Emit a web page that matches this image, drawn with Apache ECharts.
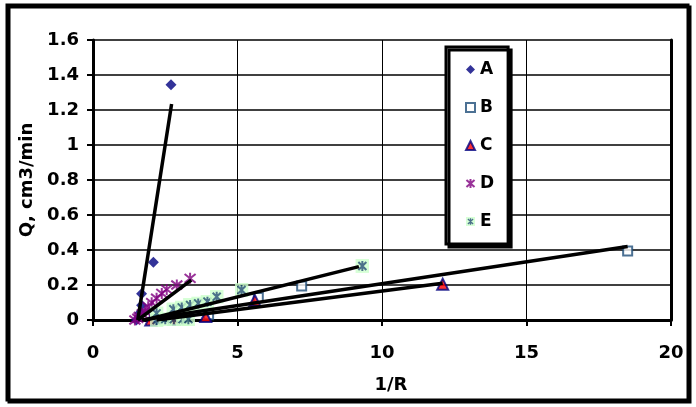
<!DOCTYPE html>
<html>
<head>
<meta charset="utf-8">
<script src="https://cdn.jsdelivr.net/npm/echarts@6/dist/echarts.min.js"></script>
<style>
  html, body { margin: 0; padding: 0; background: #fff; }
  #main { width: 696px; height: 407px; }
</style>
</head>
<body>
<div id="main"></div>
<script>
// axis ticks
var xTicks = [0, 5, 10, 15, 20];
var yTicks = [0, 0.2, 0.4, 0.6, 0.8, 1, 1.2, 1.4, 1.6];

var seriesNames = ['A', 'B', 'C', 'D', 'E'];

// measured points [1/R, Q]
var dataA = [[1.5, 0.0], [1.62, 0.04], [1.68, 0.085], [1.68, 0.15], [2.09, 0.33], [2.70, 1.345]];
var dataB = [[2.2, 0.005], [3.0, 0.015], [4.0, 0.03], [5.72, 0.128], [7.22, 0.194], [18.5, 0.394]];
var dataC = [[2.0, 0.0], [2.8, 0.005], [3.9, 0.02], [5.6, 0.112], [12.1, 0.205]];
var dataD = [[1.45, 0.0], [1.55, 0.01], [1.6, 0.02], [1.7, 0.035], [1.8, 0.05], [1.91, 0.076],
  [2.03, 0.099], [2.2, 0.124], [2.38, 0.152], [2.55, 0.175], [2.9, 0.2], [3.36, 0.238]];
var dataE = [[2.2, 0.0], [2.5, 0.005], [2.8, 0.005], [3.1, 0.005], [3.3, 0.005], [2.2, 0.038],
  [2.78, 0.061], [3.07, 0.072], [3.36, 0.086], [3.64, 0.095], [3.96, 0.105], [4.28, 0.133],
  [5.14, 0.171], [9.32, 0.309]];

// linear trendlines (end points)
var trendA = [[1.55, 0], [2.72, 1.234]];
var trendB = [[1.7, 0], [18.5, 0.42]];
var trendC = [[2.2, 0], [12.1, 0.21]];
var trendD = [[1.55, 0], [3.4, 0.228]];
var trendE = [[1.8, 0], [9.2, 0.305]];

var FONT = '"DejaVu Sans", sans-serif';

var starPath = 'path://M5,0L5,10M0.5,1L9.5,9M9.5,1L0.5,9';
var eIcon = 'image://data:image/svg+xml;utf8,' + encodeURIComponent(
  '<svg xmlns="http://www.w3.org/2000/svg" width="14" height="14">' +
  '<rect x="0" y="0" width="14" height="14" fill="#ccffcc"/>' +
  '<path d="M7 2L7 12M3 3L11 11M11 3L3 11" stroke="#1f4e6e" stroke-width="2" fill="none"/>' +
  '</svg>');

var chart = echarts.init(document.getElementById('main'), null, { renderer: 'canvas' });

function trend(data) {
  return {
    type: 'line',
    data: data,
    symbol: 'none',
    silent: true,
    z: 5,
    lineStyle: { color: '#000', width: 3.5 },
    animation: false
  };
}

var labelStyle = { fontSize: 18, fontWeight: 'bold', color: '#000', fontFamily: FONT };

var option = {
  backgroundColor: '#fff',
  animation: false,
  textStyle: { fontFamily: FONT },
  graphic: [{
    type: 'rect',
    shape: { x: 7, y: 5, width: 681, height: 395 },
    style: { fill: 'none', stroke: '#000', lineWidth: 3, shadowColor: '#000', shadowOffsetX: 2, shadowOffsetY: 2 },
    silent: true,
    z: 100
  }],
  grid: { left: 93, right: 25, top: 40, bottom: 87 },
  legend: {
    orient: 'vertical',
    left: 446,
    top: 47,
    data: ['A', 'B', 'C', 'D', { name: 'E', icon: eIcon }],
    itemWidth: 9,
    itemHeight: 9,
    itemGap: 21,
    padding: [14, 14, 14, 19],
    backgroundColor: '#fff',
    borderColor: '#000',
    borderWidth: 3,
    shadowColor: '#000',
    shadowOffsetX: 3,
    shadowOffsetY: 3,
    shadowBlur: 0,
    textStyle: { fontSize: 17, fontWeight: 'bold', color: '#000', fontFamily: FONT }
  },
  xAxis: {
    type: 'value',
    min: xTicks[0],
    max: xTicks[xTicks.length - 1],
    interval: xTicks[1] - xTicks[0],
    name: '1/R',
    nameLocation: 'middle',
    nameGap: 56,
    nameTextStyle: Object.assign({ padding: [0, 0, 0, 18] }, labelStyle),
    axisLine: { lineStyle: { color: '#000', width: 3 } },
    axisTick: { show: true, length: 6, lineStyle: { color: '#000', width: 2 } },
    axisLabel: Object.assign({ margin: 24 }, labelStyle),
    splitLine: { show: true, lineStyle: { color: '#000', width: 1 } }
  },
  yAxis: [{
    type: 'value',
    min: yTicks[0],
    max: yTicks[yTicks.length - 1],
    interval: 0.2,
    name: 'Q, cm3/min',
    nameLocation: 'middle',
    nameGap: 46,
    nameTextStyle: labelStyle,
    axisLine: { show: true, lineStyle: { color: '#000', width: 3 } },
    axisTick: { show: true, length: 6, lineStyle: { color: '#000', width: 2 } },
    axisLabel: Object.assign({ margin: 14 }, labelStyle),
    splitLine: { show: true, lineStyle: { color: '#000', width: 1.5 } }
  }, {
    type: 'value',
    position: 'right',
    min: yTicks[0],
    max: yTicks[yTicks.length - 1],
    interval: 0.2,
    axisLine: { show: true, lineStyle: { color: '#000', width: 3 } },
    axisTick: { show: false },
    axisLabel: { show: false },
    splitLine: { show: false }
  }],
  series: [{
    name: 'A',
    type: 'scatter',
    data: dataA,
    symbol: 'diamond',
    symbolSize: 11,
    itemStyle: { color: '#000080' }
  }, {
    name: 'B',
    type: 'scatter',
    data: dataB,
    symbol: 'rect',
    symbolSize: 9,
    itemStyle: { color: '#fff', borderColor: '#1f4e79', borderWidth: 2 }
  }, {
    name: 'C',
    type: 'scatter',
    data: dataC,
    symbol: 'triangle',
    symbolSize: 11,
    itemStyle: { color: '#ff0000', borderColor: '#000080', borderWidth: 2 }
  }, {
    name: 'D',
    type: 'scatter',
    data: dataD,
    symbol: starPath,
    symbolSize: 11,
    itemStyle: { color: 'rgba(0,0,0,0)', borderColor: '#800080', borderWidth: 2 }
  }, {
    name: 'E',
    type: 'scatter',
    data: dataE,
    symbol: eIcon,
    symbolSize: 14
  },
    trend(trendA), trend(trendB), trend(trendC), trend(trendD), trend(trendE)
  ]
};

chart.setOption(option);
</script>
</body>
</html>
